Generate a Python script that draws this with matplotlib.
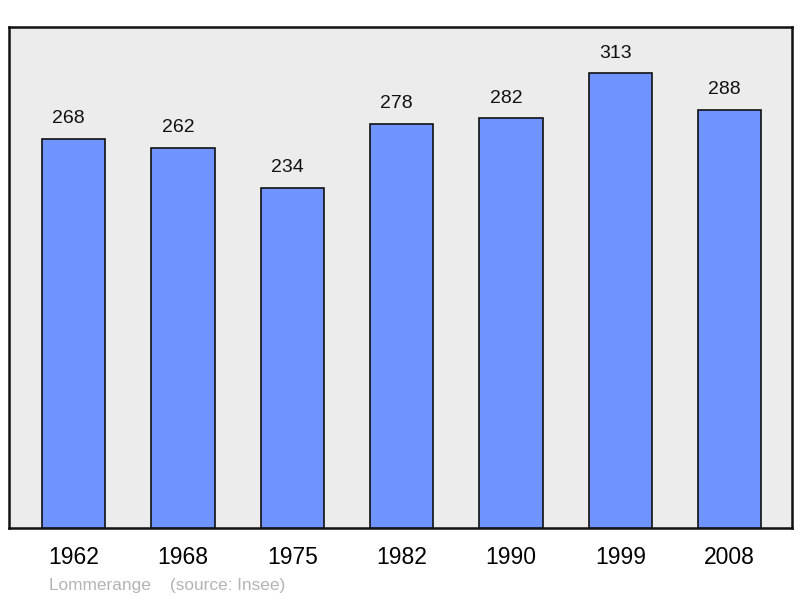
import matplotlib
matplotlib.use("Agg")
import matplotlib.pyplot as plt

years = ["1962", "1968", "1975", "1982", "1990", "1999", "2008"]
population = [268, 262, 234, 278, 282, 313, 288]

plt.rcParams['font.family'] = ['Liberation Sans', 'DejaVu Sans']

fig = plt.figure(figsize=(8, 5.98), dpi=100)
ax = fig.add_axes([9/800, 1-528/598, 783/800, 501/598])
ax.set_facecolor('#ececec')

x = list(range(len(years)))
bars = ax.bar(x, population, width=0.58, color='#7094ff', edgecolor='#111111', linewidth=1.2, zorder=3)
for xi, v in zip(x, population):
    ax.annotate(str(v), (xi, v), xytext=(-3.6, 8.5), textcoords='offset points',
                ha='center', va='bottom', fontsize=14, color='#111111')

ax.set_xlim(-0.59, 6.57)
ax.set_ylim(0, 345)
ax.set_xticks(x)
ax.set_xticklabels(years, fontsize=16.5)
ax.tick_params(axis='x', length=0, pad=13)
ax.set_yticks([])
for s in ax.spines.values():
    s.set_linewidth(1.8)
    s.set_color('#111111')

fig.text(49/800, 1-590/598, "Lommerange    (source: Insee)", fontsize=12.4, color='#b4b4b4', va='baseline', ha='left')

fig.savefig("out.png", dpi=100)
